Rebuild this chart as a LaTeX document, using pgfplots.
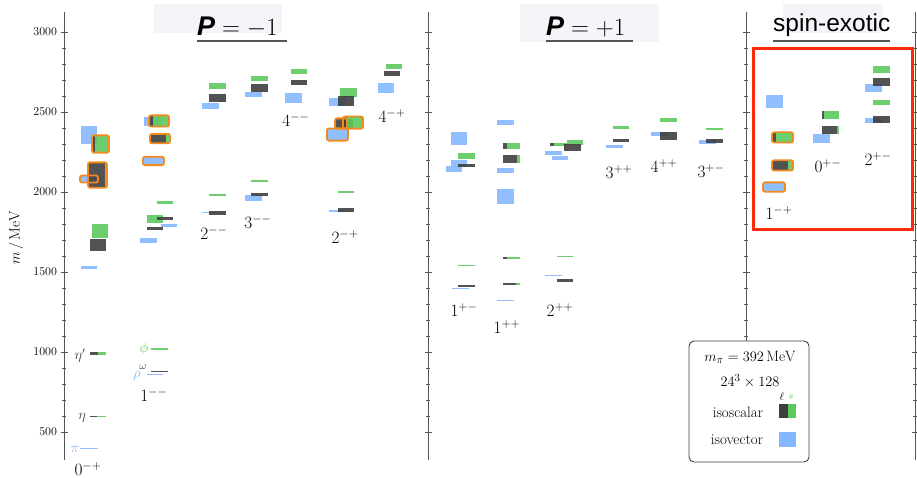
\documentclass[border=0pt]{standalone}
\usepackage{fontspec}
\usepackage{pgfplots}
\pgfplotsset{compat=1.18}
\newfontfamily\helv{Liberation Sans}
\definecolor{bvc}{HTML}{85B7FF}
\definecolor{dkc}{HTML}{3F3F3F}
\definecolor{grc}{HTML}{5CC95C}
\definecolor{orc}{HTML}{F28A1E}
\definecolor{axc}{HTML}{555555}
\definecolor{bgc}{HTML}{F4F5F8}
\definecolor{redc}{HTML}{FF2A0A}
\pgfplotsset{
  bvs/.style={forget plot, draw=none, fill=bvc, fill opacity=0.9, mark=none},
  dks/.style={forget plot, draw=none, fill=dkc, fill opacity=0.9, mark=none},
  grs/.style={forget plot, draw=none, fill=grc, fill opacity=0.9, mark=none},
  ors/.style={forget plot, draw=orc, line width=1.8pt, rounded corners=2pt, fill=none, mark=none},
  panel/.style={scale only axis, x=1pt, y=0.16pt, ymin=325, ymax=3125,
    anchor=south west, axis x line=none, axis y line=left,
    y axis line style={-, draw=axc, line width=0.9pt},
    ytick={500,1000,...,3000}, minor y tick num=4, tick align=center,
    major tick length=7pt, minor tick length=4pt,
    every tick/.style={draw=axc, line width=0.7pt},
    yticklabel style={font=\fontsize{13}{15}\selectfont, /pgf/number format/1000 sep={}},
    clip=false}
}
\newcommand{\lvl}[5]{%
  \pgfmathsetmacro\lo{#4-#5}\pgfmathsetmacro\hi{#4+#5}%
  \edef\doit{\noexpand\addplot[#1] coordinates {(#2,\lo) (#3,\lo) (#3,\hi) (#2,\hi)} -- cycle;}\doit}
\newcommand{\iso}[5]{\lvl{dks}{#1}{#2}{#4}{#5}\lvl{grs}{#2}{#3}{#4}{#5}}
\begin{document}
\begin{tikzpicture}
% title backgrounds
\fill[bgc] (154pt,445pt) rectangle (282pt,474pt);
\fill[bgc] (520pt,436pt) rectangle (659pt,474pt);
\fill[bgc] (783pt,445pt) rectangle (883pt,474pt);

\begin{axis}[panel, at={(64pt,18pt)}, xmin=64, xmax=428]
% isovector
\lvl{bvs}{81}{97}{2356}{56}
\lvl{bvs}{81}{97}{2081}{18}
\lvl{bvs}{81}{97}{1529}{10}
\lvl{bvs}{80}{98}{394}{3}
\lvl{bvs}{144}{161}{2440}{30}
\lvl{bvs}{144}{163}{2194}{22}
\lvl{bvs}{161}{177}{1791}{9}
\lvl{bvs}{140}{157}{1697}{15}
\lvl{bvs}{147}{163}{862}{3}
\lvl{bvs}{202}{219}{2537}{19}
\lvl{bvs}{202}{219}{1872}{6}
\lvl{bvs}{245}{262}{2609}{15}
\lvl{bvs}{245}{262}{1962}{19}
\lvl{bvs}{285}{302}{2587}{31}
\lvl{bvs}{329}{346}{2562}{25}
\lvl{bvs}{328}{347}{2359}{34}
\lvl{bvs}{329}{346}{1881}{6}
\lvl{bvs}{378}{394}{2650}{31}
% isoscalar 0-+
\iso{93}{95}{108}{2300}{50}
\iso{89}{104.5}{106}{2106}{75}
\lvl{grs}{92}{108}{1756}{44}
\lvl{dks}{90}{106}{1669}{37}
\iso{90}{98}{106}{992}{10}
\iso{90}{97}{106}{596}{4}
% 1--
\iso{150}{153}{168}{2444}{31}
\iso{151}{166}{169}{2334}{25}
\lvl{grs}{157}{173}{1934}{9}
\lvl{grs}{147}{163}{1831}{25}
\lvl{dks}{157}{173}{1834}{12}
\lvl{dks}{147}{163}{1772}{12}
\lvl{grs}{151}{168}{1019}{4}
\lvl{dks}{151}{168}{877}{4}
% 2--
\lvl{grs}{209}{226}{2662}{19}
\lvl{dks}{209}{226}{2587}{25}
\lvl{grs}{209}{226}{1981}{6}
\lvl{dks}{209}{226}{1869}{12}
% 3--
\lvl{grs}{251}{268}{2709}{15}
\lvl{dks}{251}{268}{2650}{25}
\lvl{grs}{251}{268}{2066}{6}
\lvl{dks}{251}{268}{1984}{9}
% 4--
\lvl{grs}{291}{307}{2753}{15}
\lvl{dks}{291}{307}{2684}{16}
% 2-+
\lvl{grs}{340}{357}{2622}{28}
\lvl{dks}{338}{354}{2569}{31}
\lvl{dks}{336}{353}{2428}{28}
\iso{344}{347}{362}{2434}{34}
\lvl{grs}{338}{354}{2000}{6}
\lvl{dks}{338}{354}{1887}{12}
% 4-+
\lvl{grs}{386}{402}{2784}{15}
\lvl{dks}{384}{400}{2741}{16}
% outlines
\lvl{ors}{92}{109}{2300}{54}
\lvl{ors}{80}{98}{2081}{22}
\lvl{ors}{88}{107}{2106}{79}
\lvl{ors}{149}{169}{2444}{35}
\lvl{ors}{150}{170}{2334}{29}
\lvl{ors}{143}{164}{2194}{26}
\lvl{ors}{335}{347}{2428}{32}
\lvl{ors}{343}{363}{2434}{38}
\lvl{ors}{327}{348}{2359}{38}
\end{axis}

\begin{axis}[panel, at={(428pt,18pt)}, xmin=428, xmax=746, yticklabels={}]
\lvl{bvs}{451}{467}{2334}{41}
\lvl{bvs}{451}{467}{2181}{22}
\lvl{bvs}{446}{462}{2144}{19}
\lvl{bvs}{452}{469}{1400}{3}
\lvl{bvs}{497}{514}{2434}{15}
\lvl{bvs}{497}{514}{2134}{15}
\lvl{bvs}{497}{514}{1972}{47}
\lvl{bvs}{497}{514}{1319}{3}
\lvl{bvs}{545}{562}{2244}{12}
\lvl{bvs}{552}{568}{2212}{12}
\lvl{bvs}{545}{562}{1481}{3}
\lvl{bvs}{606}{623}{2284}{9}
\lvl{bvs}{651}{668}{2362}{12}
\lvl{bvs}{699}{716}{2312}{12}
% 1+-
\lvl{grs}{458}{475}{2225}{19}
\lvl{dks}{458}{475}{2166}{12}
\lvl{grs}{458}{475}{1539}{4}
\lvl{dks}{458}{475}{1412}{6}
% 1++
\iso{503}{507}{520}{2287}{19}
\iso{503}{517}{520}{2206}{25}
\iso{503}{507}{520}{1587}{6}
\iso{503}{516}{520}{1425}{6}
% 2++
\iso{550}{554}{567}{2297}{12}
\lvl{grs}{567}{583}{2310}{16}
\lvl{dks}{564}{581}{2278}{19}
\lvl{grs}{557}{573}{1596}{4}
\lvl{dks}{557}{573}{1446}{8}
% 3++
\lvl{grs}{613}{629}{2403}{9}
\lvl{dks}{613}{629}{2322}{9}
% 4++
\lvl{grs}{660}{677}{2450}{12}
\lvl{dks}{660}{677}{2350}{25}
% 3+-
\lvl{grs}{706}{723}{2394}{8}
\lvl{dks}{706}{723}{2319}{12}
\end{axis}

\begin{axis}[panel, at={(746pt,18pt)}, xmin=746, xmax=915, yticklabels={}]
\lvl{bvs}{766}{783}{2566}{41}
\lvl{bvs}{764}{784}{2031}{25}
\lvl{bvs}{813}{830}{2334}{28}
\lvl{bvs}{865}{882}{2650}{25}
\lvl{bvs}{865}{882}{2447}{15}
\iso{773}{776}{792}{2341}{28}
\iso{773}{788}{792}{2166}{28}
\iso{822}{824}{839}{2481}{25}
\iso{822}{837}{839}{2387}{25}
\lvl{grs}{873}{890}{2766}{22}
\lvl{dks}{873}{890}{2687}{25}
\lvl{grs}{873}{890}{2559}{15}
\lvl{dks}{873}{890}{2453}{22}
\lvl{ors}{772}{793}{2341}{32}
\lvl{ors}{772}{793}{2166}{32}
\lvl{ors}{763}{785}{2031}{29}
\end{axis}

\begin{axis}[panel, at={(915pt,18pt)}, xmin=915, xmax=916, yticklabels={}]
\end{axis}

% y label
\node[rotate=90, font=\fontsize{15}{17}\selectfont] at (16pt,240pt) {$m\,/\,\mathrm{MeV}$};

% titles
\node[anchor=base west, inner sep=0pt, font=\fontsize{27}{30}\selectfont] at (197pt,442pt) {{\helv\bfseries\itshape P}${}=-1$};
\draw[axc, line width=2pt] (197pt,436.5pt) -- (287pt,436.5pt);
\node[anchor=base west, inner sep=0pt, font=\fontsize{27}{30}\selectfont] at (546pt,442pt) {{\helv\bfseries\itshape P}${}=+1$};
\draw[axc, line width=2pt] (546pt,436.5pt) -- (633pt,436.5pt);
\node[anchor=base west, inner sep=0pt, font=\fontsize{24.5}{28}\selectfont\helv] at (773pt,446pt) {spin-exotic};
\draw[axc, line width=2pt] (773pt,436.5pt) -- (890pt,436.5pt);

% JPC labels
\begin{scope}[every node/.style={font=\fontsize{17}{19}\selectfont, inner sep=0pt}]
\node at (88pt,9pt) {$0^{-+}$};
\node at (154pt,83pt) {$1^{--}$};
\node at (214pt,245pt) {$2^{--}$};
\node at (258pt,256pt) {$3^{--}$};
\node at (296pt,358pt) {$4^{--}$};
\node at (345pt,241pt) {$2^{-+}$};
\node at (392pt,362pt) {$4^{-+}$};
\node at (464pt,168pt) {$1^{+-}$};
\node at (507pt,151pt) {$1^{++}$};
\node at (560pt,168pt) {$2^{++}$};
\node at (619pt,306pt) {$3^{++}$};
\node at (664pt,312pt) {$4^{++}$};
\node at (711pt,307pt) {$3^{+-}$};
\node at (779pt,265pt) {$1^{-+}$};
\node at (828pt,312pt) {$0^{+-}$};
\node at (878pt,319pt) {$2^{+-}$};
\end{scope}
\begin{scope}[every node/.style={font=\fontsize{14}{16}\selectfont, inner sep=0pt}]
\node[dkc] at (80pt,122pt) {$\eta'$};
\node[dkc] at (82pt,60pt) {$\eta$};
\node[bvc] at (75pt,29pt) {$\pi$};
\node[grc] at (144pt,129pt) {$\phi$};
\node[dkc, font=\fontsize{11}{13}\selectfont] at (143pt,111pt) {$\omega$};
\node[bvc] at (137pt,102pt) {$\rho$};
\end{scope}

% red highlight
\draw[redc, line width=3pt] (753pt,429pt) rectangle (912pt,248pt);

% legend
\draw[dkc, fill=white, line width=0.9pt, rounded corners=5pt] (689pt,137pt) rectangle (809pt,16pt);
\begin{scope}[every node/.style={font=\fontsize{15}{17}\selectfont, inner sep=0pt}]
\node at (750pt,121pt) {$m_\pi = 392\,\mathrm{MeV}$};
\node at (750pt,97pt) {$24^3\times 128$};
\node at (738pt,66pt) {isoscalar};
\node at (737pt,38pt) {isovector};
\node[font=\fontsize{11}{13}\selectfont] at (782pt,81pt) {$\ell$};
\node[grc, font=\fontsize{11}{13}\selectfont] at (791pt,81pt) {$s$};
\end{scope}
\fill[dkc] (779pt,60pt) rectangle (788pt,74pt);
\fill[grc] (788pt,60pt) rectangle (796pt,74pt);
\fill[bvc] (779pt,31pt) rectangle (796pt,46pt);

\pgfresetboundingbox
\path[use as bounding box] (0pt,0pt) rectangle (917pt,478pt);
\end{tikzpicture}
\end{document}
